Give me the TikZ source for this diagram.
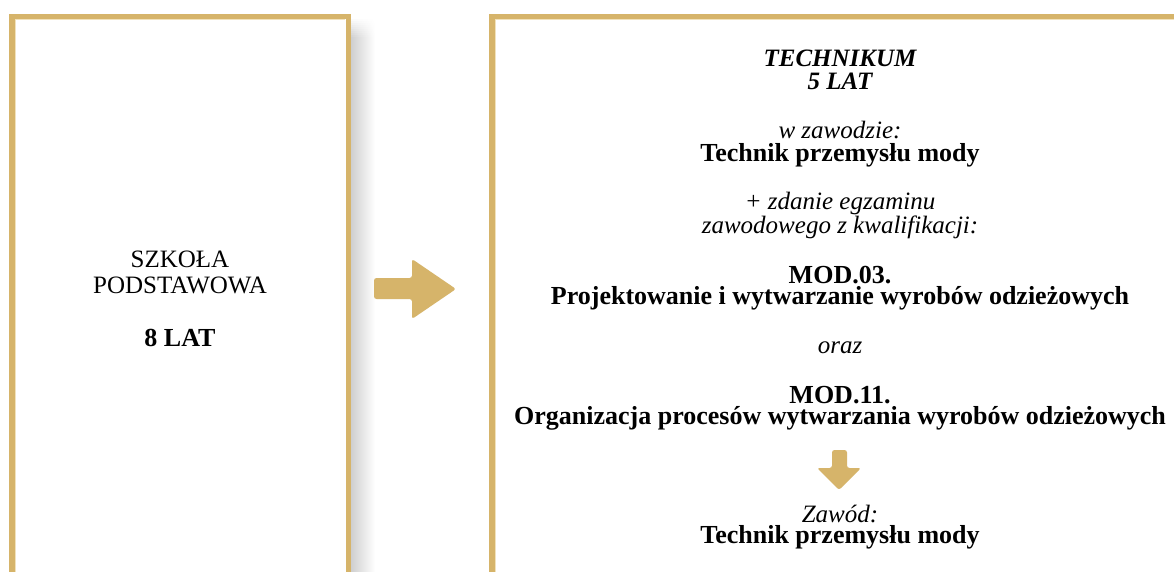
\documentclass[tikz,border=0pt]{standalone}
\usepackage{fontspec}
\setmainfont{Liberation Serif}
\definecolor{gold}{HTML}{D6B46A}
\definecolor{goldlight}{HTML}{F2E2BC}
\tikzset{
  frame/.style={draw=gold, line width=5.5pt},
  lbl/.style={inner sep=0pt, anchor=base, text=black},
  rm/.style={lbl, font=\fontsize{25}{25}\selectfont},
  bf/.style={lbl, font=\fontsize{26}{26}\selectfont\bfseries},
  it/.style={lbl, font=\fontsize{25}{25}\selectfont\itshape},
  bi/.style={lbl, font=\fontsize{25}{25}\selectfont\bfseries\itshape},
  blockarrow/.style={fill=gold, draw=none, rounded corners=2.5pt}
}
\begin{document}
\begin{tikzpicture}[x=1pt, y=-1pt]
  \useasboundingbox (0,0) rectangle (1174,572);
  \clip (0,0) rectangle (1174,572);
  \fill[white] (0,0) rectangle (1174,572);
  % shadow of the left panel (soft start at the top)
  \foreach \i in {1,...,10} {
    \pgfmathsetmacro\shadeamt{19*\i/10}
    \shade[left color=black!\shadeamt, right color=white]
      (351,{18+2*\i}) rectangle (375,{20.2+2*\i});
  }
  \shade[left color=black!19, right color=white] (351,40) rectangle (375,572);
  % panels
  \draw[frame] (11.75,600) -- (11.75,16.75) -- (348.25,16.75) -- (348.25,600);
  \draw[goldlight, line width=1pt] (15,600) -- (15,20) -- (345,20);
  \draw[frame] (491.75,600) -- (491.75,16.75) -- (1200,16.75);
  \draw[goldlight, line width=1pt] (495,600) -- (495,20) -- (1200,20);
  % right arrow
  \path[blockarrow] (374,278) -- (412,278) -- (412,259) -- (456,289)
        -- (412,319) -- (412,299) -- (374,299) -- cycle;
  % down arrow
  \path[blockarrow] (832,450) -- (847,450) -- (847,468) -- (861,468)
        -- (839,490) -- (817,468) -- (832,468) -- cycle;
  % left text
  \node[rm] (l1) at (180,267.3) {SZKOŁA};
  \node[rm] (l2) at (180,293.3) {PODSTAWOWA};
  \node[bf] (l3) at (180,346.7) {8 LAT};
  % right text
  \node[bi] (t1) at (840,66.7) {TECHNIKUM};
  \node[bi] (t2) at (840,90) {5 LAT};
  \node[it] (t3) at (840,139) {w zawodzie:};
  \node[bf] (t4) at (840,161.7) {Technik przemysłu mody};
  \node[it] (t5) at (840,209) {+ zdanie egzaminu};
  \node[it] (t6) at (840,233) {zawodowego z kwalifikacji:};
  \node[bf] (t7) at (840,283) {MOD.03.};
  \node[bf] (t8) at (840,304.5) {Projektowanie i wytwarzanie wyrobów odzieżowych};
  \node[it] (t9) at (840,353.3) {oraz};
  \node[bf] (t10) at (840,403) {MOD.11.};
  \node[bf] (t11) at (840,424.5) {Organizacja procesów wytwarzania wyrobów odzieżowych};
  \node[it] (t12) at (840,522.5) {Zawód:};
  \node[bf] (t13) at (840,543.5) {Technik przemysłu mody};
\end{tikzpicture}
\end{document}
